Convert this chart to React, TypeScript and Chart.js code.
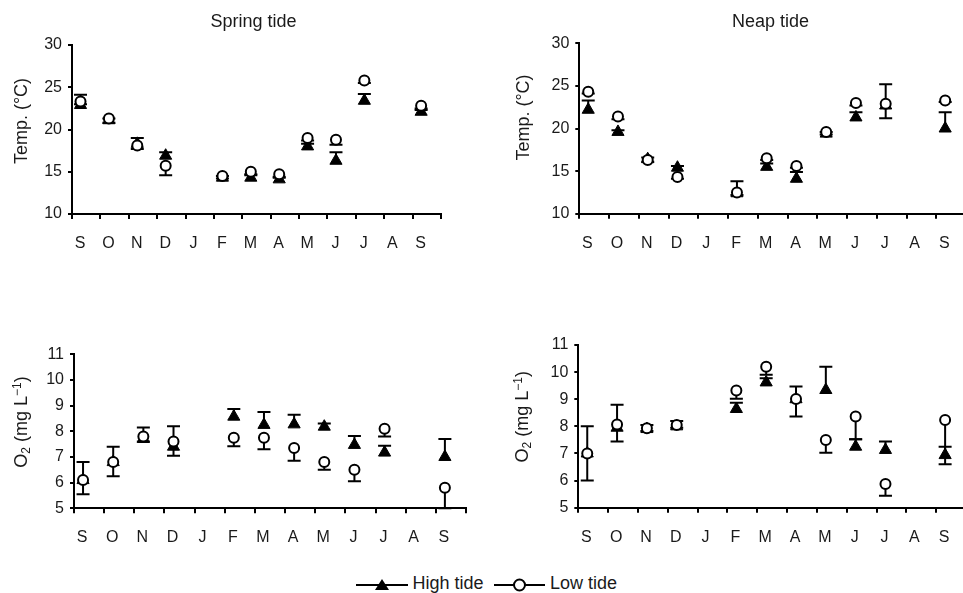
import React, { useEffect, useRef } from 'react';
import { Chart, registerables } from 'chart.js';

Chart.register(...registerables);

type Num = number | null;

// ---------- data ----------
const MONTHS = ['S', 'O', 'N', 'D', 'J', 'F', 'M', 'A', 'M', 'J', 'J', 'A', 'S'];
const TEMP_TICKS = [10, 15, 20, 25, 30];
const O2_TICKS = [5, 6, 7, 8, 9, 10, 11];
const SERIES_NAMES = ['High tide', 'Low tide'];
const PANEL_TITLES = ['Spring tide', 'Neap tide'];

const SPRING_TEMP_HIGH: Num[] = [22.9, 21.1, 18.3, 16.9, null, 14.3, 14.3, 14.1, 18.0, 16.3, 23.4, null, 22.1];
const SPRING_TEMP_HIGH_ERR: Num[] = [1.2, 0.2, 0.7, 0.4, null, 0.2, 0.3, 0.2, 0.3, 1.0, 0.8, null, 0.2];
const SPRING_TEMP_LOW: Num[] = [23.3, 21.3, 18.1, 15.7, null, 14.5, 15.0, 14.7, 19.0, 18.8, 25.8, null, 22.8];
const SPRING_TEMP_LOW_ERR: Num[] = [0.3, 0.5, 0.4, 1.1, null, 0.3, 0.3, 0.3, 0.3, 0.6, 0.3, null, 0.3];

const NEAP_TEMP_HIGH: Num[] = [22.2, 19.6, 16.4, 15.4, null, 12.4, 15.5, 14.1, 19.4, 21.3, 22.7, null, 20.0];
const NEAP_TEMP_HIGH_ERR: Num[] = [1.1, 0.2, 0.2, 0.2, null, 1.4, 0.4, 0.8, 0.2, 0.6, 2.5, null, 1.9];
const NEAP_TEMP_LOW: Num[] = [24.3, 21.4, 16.3, 14.3, null, 12.5, 16.5, 15.6, 19.6, 23.0, 22.9, null, 23.3];
const NEAP_TEMP_LOW_ERR: Num[] = [0.2, 0.3, 0.2, 0.2, null, 0.3, 0.2, 0.2, 0.3, 0.3, 1.7, null, 0.2];

const SPRING_O2_HIGH: Num[] = [6.1, 6.8, 7.7, 7.4, null, 8.57, 8.25, 8.27, 8.18, 7.47, 7.17, null, 7.0];
const SPRING_O2_HIGH_ERR: Num[] = [0.7, 0.6, 0.45, 0.8, null, 0.3, 0.5, 0.37, 0.12, 0.35, 0.27, null, 0.7];
const SPRING_O2_LOW: Num[] = [6.1, 6.8, 7.8, 7.6, null, 7.75, 7.75, 7.35, 6.8, 6.5, 8.1, null, 5.8];
const SPRING_O2_LOW_ERR: Num[] = [0.55, 0.55, 0.2, 0.55, null, 0.33, 0.45, 0.5, 0.3, 0.45, 0.3, null, 0.8];

const NEAP_O2_HIGH: Num[] = [7.0, 7.95, 7.9, 8.0, null, 8.64, 9.62, 9.0, 9.34, 7.25, 7.13, null, 6.94];
const NEAP_O2_HIGH_ERR: Num[] = [1.0, 0.85, 0.15, 0.2, null, 0.23, 0.15, 0.47, 0.86, 0.27, 0.31, null, 0.31];
const NEAP_O2_LOW: Num[] = [7.0, 8.07, 7.93, 8.05, null, 9.32, 10.2, 9.01, 7.5, 8.36, 5.87, null, 8.23];
const NEAP_O2_LOW_ERR: Num[] = [1.0, 0.63, 0.1, 0.1, null, 0.3, 0.3, 0.65, 0.47, 0.84, 0.43, null, 1.63];

// ---------- style ----------
const POINT_SHIFT = 0.3;
const CAP_HALF = 6.5;
const TEXT_COLOR = '#1a1a1a';
const FONT_FAMILY = '"Liberation Sans", Arial, Helvetica, sans-serif';
const TITLE_FONT = `18px ${FONT_FAMILY}`;
const SMALL_FONT = `12px ${FONT_FAMILY}`;

type TitlePart = { t: string; sub?: boolean; sup?: boolean };
const TEMP_TITLE: TitlePart[] = [{ t: 'Temp. (°C)' }];
const O2_TITLE: TitlePart[] = [{ t: 'O' }, { t: '2', sub: true }, { t: ' (mg L' }, { t: '\u22121', sup: true }, { t: ')' }];

type Box = { left: number; top: number; width: number; height: number };
type Area = { l: number; t: number; r: number; b: number };

type PanelCfg = {
  key: string;
  box: Box;
  area: Area;
  yTicks: number[];
  high: Num[];
  highErr: Num[];
  low: Num[];
  lowErr: Num[];
  title?: { text: string; x: number; y: number };
  yTitle: { parts: TitlePart[]; x: number; y: number };
};

const PANELS: PanelCfg[] = [
  {
    key: 'springTemp',
    box: { left: 0, top: 0, width: 481, height: 270 },
    area: { l: 72, t: 45, r: 441, b: 214 },
    yTicks: TEMP_TICKS,
    high: SPRING_TEMP_HIGH, highErr: SPRING_TEMP_HIGH_ERR,
    low: SPRING_TEMP_LOW, lowErr: SPRING_TEMP_LOW_ERR,
    title: { text: PANEL_TITLES[0], x: 253.5, y: 27 },
    yTitle: { parts: TEMP_TITLE, x: 22, y: 121 },
  },
  {
    key: 'neapTemp',
    box: { left: 481, top: 0, width: 500, height: 270 },
    area: { l: 579.3, t: 43.3, r: 969.3, b: 213.7 },
    yTicks: TEMP_TICKS,
    high: NEAP_TEMP_HIGH, highErr: NEAP_TEMP_HIGH_ERR,
    low: NEAP_TEMP_LOW, lowErr: NEAP_TEMP_LOW_ERR,
    title: { text: PANEL_TITLES[1], x: 770.5, y: 27 },
    yTitle: { parts: TEMP_TITLE, x: 524, y: 117.5 },
  },
  {
    key: 'springO2',
    box: { left: 0, top: 290, width: 481, height: 270 },
    area: { l: 74, t: 354.3, r: 468.3, b: 508.3 },
    yTicks: O2_TICKS,
    high: SPRING_O2_HIGH, highErr: SPRING_O2_HIGH_ERR,
    low: SPRING_O2_LOW, lowErr: SPRING_O2_LOW_ERR,
    yTitle: { parts: O2_TITLE, x: 22, y: 422 },
  },
  {
    key: 'neapO2',
    box: { left: 481, top: 290, width: 500, height: 270 },
    area: { l: 578.3, t: 345, r: 973.5, b: 507.7 },
    yTicks: O2_TICKS,
    high: NEAP_O2_HIGH, highErr: NEAP_O2_HIGH_ERR,
    low: NEAP_O2_LOW, lowErr: NEAP_O2_LOW_ERR,
    yTitle: { parts: O2_TITLE, x: 523, y: 416.7 },
  },
];

function toPoints(vals: Num[], errs: Num[]) {
  const pts: { x: number; y: number; err: number | null }[] = [];
  vals.forEach((v, i) => {
    if (v == null) return;
    pts.push({ x: i + POINT_SHIFT, y: v, err: errs[i] });
  });
  return pts;
}

const errorBarPlugin = {
  id: 'errorBars',
  beforeDatasetsDraw(chart: any) {
    const ctx = chart.ctx as CanvasRenderingContext2D;
    const xs = chart.scales.x;
    const ys = chart.scales.y;
    ctx.save();
    ctx.strokeStyle = '#000';
    ctx.lineWidth = 2;
    chart.data.datasets.forEach((ds: any) => {
      const dir = ds.errorDir as number;
      ds.data.forEach((p: any) => {
        if (!p || p.err == null) return;
        const px = xs.getPixelForValue(p.x);
        const y0 = ys.getPixelForValue(p.y);
        const y1 = ys.getPixelForValue(p.y + dir * p.err);
        ctx.beginPath();
        ctx.moveTo(px, y0);
        ctx.lineTo(px, y1);
        ctx.moveTo(px - CAP_HALF, y1);
        ctx.lineTo(px + CAP_HALF, y1);
        ctx.stroke();
      });
    });
    ctx.restore();
  },
};

function makeTextPlugin(p: PanelCfg) {
  return {
    id: 'panelText_' + p.key,
    afterDraw(chart: any) {
      const ctx = chart.ctx as CanvasRenderingContext2D;
      ctx.save();
      ctx.fillStyle = TEXT_COLOR;
      if (p.title) {
        ctx.font = TITLE_FONT;
        ctx.textAlign = 'center';
        ctx.textBaseline = 'alphabetic';
        ctx.fillText(p.title.text, p.title.x - p.box.left, p.title.y - p.box.top);
      }
      const yt = p.yTitle;
      ctx.translate(yt.x - p.box.left, yt.y - p.box.top);
      ctx.rotate(-Math.PI / 2);
      ctx.textAlign = 'left';
      ctx.textBaseline = 'middle';
      let total = 0;
      const widths = yt.parts.map((part) => {
        ctx.font = part.sub || part.sup ? SMALL_FONT : TITLE_FONT;
        const w = ctx.measureText(part.t).width;
        total += w;
        return w;
      });
      let x = -total / 2;
      yt.parts.forEach((part, i) => {
        ctx.font = part.sub || part.sup ? SMALL_FONT : TITLE_FONT;
        const dy = part.sub ? 5 : part.sup ? -4 : 0;
        ctx.fillText(part.t, x, dy);
        x += widths[i];
      });
      ctx.restore();
    },
  };
}

function Panel({ cfg }: { cfg: PanelCfg }) {
  const ref = useRef<HTMLCanvasElement | null>(null);
  useEffect(() => {
    if (!ref.current) return;
    const { box, area, yTicks } = cfg;
    const yWidth = area.l - box.left;
    const padTop = area.t - box.top;
    const padRight = box.left + box.width - area.r;
    const xHeight = box.top + box.height - area.b;
    const tickFont = { family: FONT_FAMILY, size: 16 };
    const chart = new Chart(ref.current, {
      type: 'scatter',
      data: {
        datasets: [
          {
            label: SERIES_NAMES[1],
            data: toPoints(cfg.low, cfg.lowErr),
            errorDir: -1,
            order: 0,
            pointStyle: 'circle',
            pointRadius: 5,
            pointHoverRadius: 5,
            pointBackgroundColor: '#fff',
            pointBorderColor: '#000',
            pointBorderWidth: 2,
          } as any,
          {
            label: SERIES_NAMES[0],
            data: toPoints(cfg.high, cfg.highErr),
            errorDir: 1,
            order: 1,
            pointStyle: 'triangle',
            pointRadius: 7,
            pointHoverRadius: 7,
            pointBackgroundColor: '#000',
            pointBorderColor: '#000',
            pointBorderWidth: 1,
          } as any,
        ],
      },
      options: {
        animation: false,
        responsive: false,
        events: [],
        layout: { padding: { left: 0, top: padTop, right: padRight, bottom: 0 } },
        plugins: {
          legend: { display: false },
          tooltip: { enabled: false },
          title: { display: false },
        },
        scales: {
          x: {
            type: 'linear',
            min: 0,
            max: MONTHS.length,
            afterFit: (s: any) => { s.height = xHeight; },
            ticks: {
              stepSize: 1,
              autoSkip: false,
              maxRotation: 0,
              labelOffset: 8,
              padding: 15,
              color: TEXT_COLOR,
              font: tickFont,
              callback: (v: any) => MONTHS[v as number] ?? '',
            },
            grid: { display: true, drawOnChartArea: false, drawTicks: true, tickLength: 5, lineWidth: 2, color: '#000' },
            border: { display: true, width: 2, color: '#000' },
          },
          y: {
            type: 'linear',
            min: yTicks[0],
            max: yTicks[yTicks.length - 1],
            afterFit: (s: any) => { s.width = yWidth; },
            ticks: {
              stepSize: yTicks[1] - yTicks[0],
              padding: 6,
              color: TEXT_COLOR,
              font: tickFont,
            },
            grid: { display: true, drawOnChartArea: false, drawTicks: true, tickLength: 4, lineWidth: 2, color: '#000' },
            border: { display: true, width: 2, color: '#000' },
          },
        },
      } as any,
      plugins: [errorBarPlugin, makeTextPlugin(cfg)],
    });
    return () => chart.destroy();
  }, [cfg]);
  const { box } = cfg;
  return (
    <canvas
      ref={ref}
      width={box.width}
      height={box.height}
      style={{ position: 'absolute', left: box.left, top: box.top, width: box.width, height: box.height }}
    />
  );
}

function Legend() {
  const textStyle: React.CSSProperties = {
    position: 'absolute',
    top: 573,
    height: 20,
    lineHeight: '20px',
    fontFamily: FONT_FAMILY,
    fontSize: 18,
    color: TEXT_COLOR,
    whiteSpace: 'nowrap',
  };
  return (
    <>
      <svg style={{ position: 'absolute', left: 356, top: 576, width: 54, height: 18 }} width={54} height={18}>
        <line x1={0} y1={9} x2={52} y2={9} stroke="#000" strokeWidth={2} />
        <polygon points="19,14 26,3 33,14" fill="#000" />
      </svg>
      <span style={{ ...textStyle, left: 412.5 }}>{SERIES_NAMES[0]}</span>
      <svg style={{ position: 'absolute', left: 494, top: 576, width: 54, height: 18 }} width={54} height={18}>
        <line x1={0} y1={9} x2={51} y2={9} stroke="#000" strokeWidth={2} />
        <circle cx={25.5} cy={9} r={5.5} fill="#fff" stroke="#000" strokeWidth={2} />
      </svg>
      <span style={{ ...textStyle, left: 550 }}>{SERIES_NAMES[1]}</span>
    </>
  );
}

export default function App() {
  return (
    <div
      style={{
        position: 'fixed',
        left: 0,
        top: 0,
        width: 963,
        height: 593,
        overflow: 'hidden',
        background: '#fff',
      }}
    >
      {PANELS.map((p) => (
        <Panel key={p.key} cfg={p} />
      ))}
      <Legend />
    </div>
  );
}
